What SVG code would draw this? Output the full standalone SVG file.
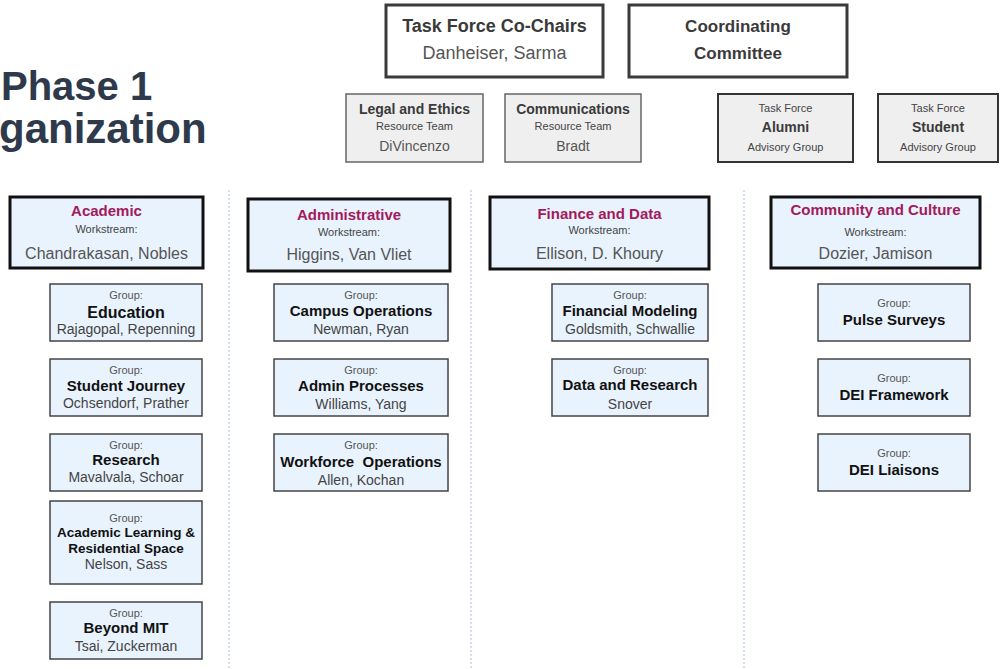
<svg xmlns="http://www.w3.org/2000/svg" width="1000" height="669" viewBox="0 0 1000 669">
<style>
text{font-family:"Liberation Sans",Arial,sans-serif;text-anchor:middle}
.title{font-weight:bold;fill:#2e3a4b;text-anchor:start}
.top{fill:#fff;stroke:#3a3a3a;stroke-width:3}
.res{fill:#efefef;stroke:#666;stroke-width:1.5}
.adv{fill:#efefef;stroke:#333;stroke-width:2}
.ws{fill:#e9f3fd;stroke:#111;stroke-width:3}
.grp{fill:#e9f3fd;stroke:#444;stroke-width:1.5}
.b18{font-size:18px;font-weight:bold;fill:#3a3a3a}
.n18{font-size:18px;fill:#555}
.b17{font-size:17px;font-weight:bold;fill:#3a3a3a}
.b14{font-size:14px;font-weight:bold;fill:#3a3a3a}
.s11{font-size:11px;fill:#444}
.n14{font-size:14px;fill:#555}
.wt{font-size:15px;font-weight:bold;fill:#a3195b}
.wn{font-size:16px;fill:#555}
.gl{font-size:11px;fill:#555}
.gt{font-size:15px;font-weight:bold;fill:#111}
.gt2{font-size:13.5px;font-weight:bold;fill:#111}
.gn{font-size:14px;fill:#444}
.sep{stroke:#a8bfd6;stroke-width:1;stroke-dasharray:2 2;fill:none}
</style>
<rect width="1000" height="669" fill="#fff"/>
<g id="title">
<text class="title" x="1" y="100" style="font-size:40px">Phase 1</text>
<text class="title" x="-1" y="143" style="font-size:42px">ganization</text>
</g>
<g id="separators">
<line class="sep" x1="229" y1="190" x2="229" y2="669"/>
<line class="sep" x1="471" y1="190" x2="471" y2="669"/>
<line class="sep" x1="744" y1="190" x2="744" y2="669"/>
</g>
<g id="cochairs">
<rect class="top" x="386" y="5" width="217" height="72"/>
<text class="b18" x="494.5" y="32">Task Force Co-Chairs</text>
<text class="n18" x="494.5" y="59">Danheiser, Sarma</text>
</g>
<g id="coordinating">
<rect class="top" x="629" y="5" width="218" height="72"/>
<text class="b17" x="738" y="32">Coordinating</text>
<text class="b17" x="738" y="59">Committee</text>
</g>
<g id="legal">
<rect class="res" x="346" y="94" width="137" height="68"/>
<text class="b14" x="414.5" y="114">Legal and Ethics</text>
<text class="s11" x="414.5" y="130">Resource Team</text>
<text class="n14" x="414.5" y="151">DiVincenzo</text>
</g>
<g id="communications">
<rect class="res" x="505" y="94" width="136" height="68"/>
<text class="b14" x="573" y="114">Communications</text>
<text class="s11" x="573" y="130">Resource Team</text>
<text class="n14" x="573" y="151">Bradt</text>
</g>
<g id="alumni">
<rect class="adv" x="718" y="94" width="135" height="68"/>
<text class="s11" x="785.5" y="112">Task Force</text>
<text class="b14" x="785.5" y="132">Alumni</text>
<text class="s11" x="785.5" y="151">Advisory Group</text>
</g>
<g id="student">
<rect class="adv" x="878" y="94" width="120" height="68"/>
<text class="s11" x="938" y="112">Task Force</text>
<text class="b14" x="938" y="132">Student</text>
<text class="s11" x="938" y="151">Advisory Group</text>
</g>
<g id="ws-academic">
<rect class="ws" x="10" y="197" width="193" height="71"/>
<text class="wt" x="106.5" y="216">Academic</text>
<text class="s11" x="106.5" y="233">Workstream:</text>
<text class="wn" x="106.5" y="259">Chandrakasan, Nobles</text>
</g>
<g id="ws-administrative">
<rect class="ws" x="248" y="199" width="202" height="72"/>
<text class="wt" x="349" y="220">Administrative</text>
<text class="s11" x="349" y="236">Workstream:</text>
<text class="wn" x="349" y="260">Higgins, Van Vliet</text>
</g>
<g id="ws-finance">
<rect class="ws" x="490" y="197" width="219" height="72"/>
<text class="wt" x="599.5" y="219">Finance and Data</text>
<text class="s11" x="599.5" y="234">Workstream:</text>
<text class="wn" x="599.5" y="259">Ellison, D. Khoury</text>
</g>
<g id="ws-community">
<rect class="ws" x="771" y="197" width="209" height="71"/>
<text class="wt" x="875.5" y="215">Community and Culture</text>
<text class="s11" x="875.5" y="236">Workstream:</text>
<text class="wn" x="875.5" y="259">Dozier, Jamison</text>
</g>
<g id="g-education">
<rect class="grp" x="50" y="284" width="152" height="57"/>
<text class="gl" x="126" y="299">Group:</text>
<text class="gt" x="126" y="318" style="font-size:16px">Education</text>
<text class="gn" x="126" y="334">Rajagopal, Repenning</text>
</g>
<g id="g-studentjourney">
<rect class="grp" x="50" y="359" width="152" height="57"/>
<text class="gl" x="126" y="374">Group:</text>
<text class="gt" x="126" y="391">Student Journey</text>
<text class="gn" x="126" y="408">Ochsendorf, Prather</text>
</g>
<g id="g-research">
<rect class="grp" x="50" y="434" width="152" height="57"/>
<text class="gl" x="126" y="449">Group:</text>
<text class="gt" x="126" y="465">Research</text>
<text class="gn" x="126" y="482">Mavalvala, Schoar</text>
</g>
<g id="g-alrs">
<rect class="grp" x="50" y="501" width="152" height="83"/>
<text class="gl" x="126" y="522">Group:</text>
<text class="gt2" x="126" y="537">Academic Learning &amp;</text>
<text class="gt2" x="126" y="553">Residential Space</text>
<text class="gn" x="126" y="569">Nelson, Sass</text>
</g>
<g id="g-beyondmit">
<rect class="grp" x="50" y="602" width="152" height="57"/>
<text class="gl" x="126" y="617">Group:</text>
<text class="gt" x="126" y="633">Beyond MIT</text>
<text class="gn" x="126" y="651">Tsai, Zuckerman</text>
</g>
<g id="g-campusops">
<rect class="grp" x="274" y="284" width="174" height="57"/>
<text class="gl" x="361" y="299">Group:</text>
<text class="gt" x="361" y="316">Campus Operations</text>
<text class="gn" x="361" y="334">Newman, Ryan</text>
</g>
<g id="g-adminprocesses">
<rect class="grp" x="274" y="359" width="174" height="57"/>
<text class="gl" x="361" y="374">Group:</text>
<text class="gt" x="361" y="391">Admin Processes</text>
<text class="gn" x="361" y="409">Williams, Yang</text>
</g>
<g id="g-workforce">
<rect class="grp" x="274" y="434" width="174" height="57"/>
<text class="gl" x="361" y="449">Group:</text>
<text class="gt" x="361" y="467" xml:space="preserve">Workforce  Operations</text>
<text class="gn" x="361" y="485">Allen, Kochan</text>
</g>
<g id="g-financialmodeling">
<rect class="grp" x="552" y="284" width="156" height="57"/>
<text class="gl" x="630" y="299">Group:</text>
<text class="gt" x="630" y="316">Financial Modeling</text>
<text class="gn" x="630" y="334">Goldsmith, Schwallie</text>
</g>
<g id="g-dataresearch">
<rect class="grp" x="552" y="359" width="156" height="57"/>
<text class="gl" x="630" y="374">Group:</text>
<text class="gt" x="630" y="390">Data and Research</text>
<text class="gn" x="630" y="409">Snover</text>
</g>
<g id="g-pulse">
<rect class="grp" x="818" y="284" width="152" height="57"/>
<text class="gl" x="894" y="307">Group:</text>
<text class="gt" x="894" y="325">Pulse Surveys</text>
</g>
<g id="g-deiframework">
<rect class="grp" x="818" y="359" width="152" height="57"/>
<text class="gl" x="894" y="382">Group:</text>
<text class="gt" x="894" y="400">DEI Framework</text>
</g>
<g id="g-deiliaisons">
<rect class="grp" x="818" y="434" width="152" height="57"/>
<text class="gl" x="894" y="457">Group:</text>
<text class="gt" x="894" y="475">DEI Liaisons</text>
</g>
</svg>
